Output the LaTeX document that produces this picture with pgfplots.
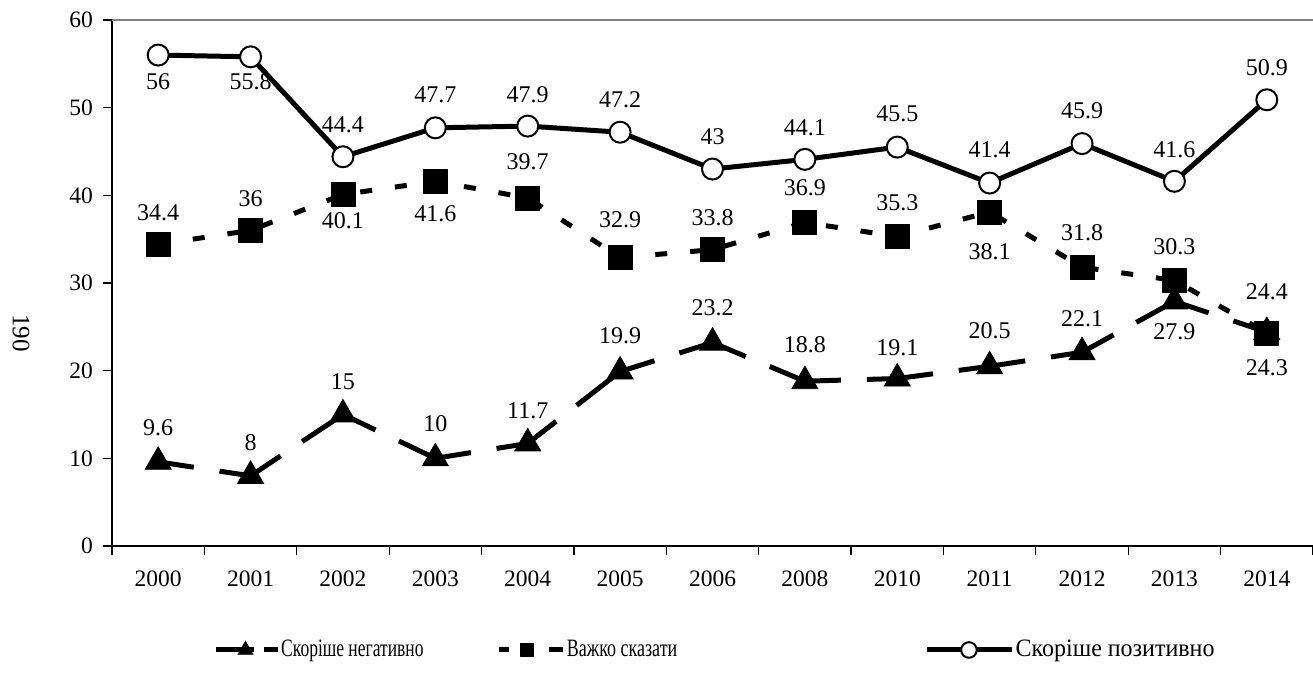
\documentclass[border=0pt]{standalone}
\usepackage{fontspec}
\setmainfont{Liberation Serif}
\usepackage{graphicx}
\usepackage{pgfplots}
\pgfplotsset{compat=1.18}

\pgfplotsset{
  legtri/.style={legend image code/.code={
    \draw[black, line width=2.5pt, dash pattern=on 19pt off 5pt on 7pt off 5pt] (0pt,0pt) -- (31pt,0pt);
    \path[black] plot[only marks, mark=triangle*, mark size=4.3pt, mark options={solid, fill=black, line width=0.4pt}]
      coordinates {(15pt,0pt)};}},
  legsq/.style={legend image code/.code={
    \draw[mark repeat=2,mark phase=2,##1,mark size=3.3pt,dash phase=0pt,dash pattern=on 5pt off 20pt on 7pt off 5pt]
      plot coordinates {(0pt,0pt) (14pt,0pt) (32pt,0pt)};}},
  legci/.style={legend image code/.code={
    \draw[mark repeat=2,mark phase=2,##1,mark size=3.9pt]
      plot coordinates {(0pt,0pt) (21pt,0pt) (42.5pt,0pt)};}},
  labels/.style={
    nodes near coords,
    visualization depends on={\thisrow{dy}\as\dy},
    every node near coord/.append style={font=\fontsize{12}{14}\selectfont,
      anchor=center, yshift=\dy pt, text=black, inner sep=0pt}},
}

\begin{document}
\begin{tikzpicture}

\begin{axis}[
  scale only axis,
  width=600.5pt, height=263pt,
  xmin=-0.5, xmax=12.5, ymin=0, ymax=60,
  clip=false,
  axis x line*=bottom, axis y line*=left,
  axis line style={black, line width=0.6pt},
  xtick={-0.5,0.5,...,12.5},
  xticklabels={},
  extra x ticks={0,1,...,12},
  extra x tick labels={2000,2001,2002,2003,2004,2005,2006,2008,2010,2011,2012,2013,2014},
  extra x tick style={major tick length=0pt, xticklabel style={yshift=-9pt}},
  ytick={0,10,...,60},
  tick align=outside,
  major tick length=4.5pt,
  tick style={black, line width=0.6pt},
  tick label style={font=\fontsize{11.75}{13}\selectfont},
  yticklabel style={xshift=-1.5pt},
  /pgf/number format/assume math mode=true,
  extra description/.code={
    \draw[gray, line width=0.6pt] (rel axis cs:0,1) -- (rel axis cs:1,1);
  },
  unbounded coords=jump,
  legend columns=3,
  legend style={at={(0.0841,-0.1977)}, anchor=west, draw=none, fill=none,
    inner sep=0pt, outer sep=0pt,
    nodes={inner sep=0.6pt},
    font=\fontsize{12.5}{15}\selectfont,
    /tikz/column 2/.style={column sep=36pt},
    /tikz/column 4/.style={column sep=123pt}},
]

% Скоріше негативно: line drawn segment by segment, so the long dash restarts at each point
\addplot[black, line width=2.5pt, line join=round, dash pattern=on 18pt off 13pt on 200pt off 1pt,
  mark=none, forget plot]
table {
x y
0 9.6
1 8
nan nan
1 8
2 15
nan nan
2 15
3 10
nan nan
3 10
4 11.7
nan nan
4 11.7
5 19.9
nan nan
5 19.9
6 23.2
nan nan
6 23.2
7 18.8
nan nan
7 18.8
8 19.1
nan nan
8 19.1
9 20.5
nan nan
9 20.5
10 22.1
nan nan
10 22.1
11 27.9
nan nan
11 27.9
12 24.4
};

\addplot[black, only marks, mark=triangle*, mark size=7.5pt,
  mark options={solid, fill=black, line width=0.4pt}, labels, legtri]
table[x=x, y=y] {
x y dy
0 9.6 17
1 8 16.5
2 15 16.5
3 10 17.5
4 11.7 16.5
5 19.9 18
6 23.2 17.5
7 18.8 18
8 19.1 15.5
9 20.5 18
10 22.1 17
11 27.9 -15
12 24.4 20
};
\addlegendentry{\scalebox{0.7}[1]{Скоріше негативно}}

\addplot[black, line width=2.5pt, line join=round, dash pattern=on 6pt off 11.5pt,
  mark=square*, mark size=6pt, mark options={solid, fill=black, line width=0.4pt}, labels, legsq]
table[x=x, y=y] {
x y dy
0 34.4 16
1 36 16
2 40.1 -13
3 41.6 -16
4 39.7 18
5 32.9 19
6 33.8 16
7 36.9 17.5
8 35.3 17
9 38.1 -20
10 31.8 17.5
11 30.3 17
12 24.3 -17.5
};
\addlegendentry{\scalebox{0.72}[1]{Важко сказати}}

\addplot[black, line width=2.5pt, line join=round,
  mark=*, mark size=5.25pt, mark options={solid, fill=white, draw=black, line width=1pt}, labels, legci]
table[x=x, y=y] {
x y dy
0 56 -13.5
1 55.8 -12.5
2 44.4 16
3 47.7 16.5
4 47.9 15.5
5 47.2 16
6 43 16
7 44.1 16
8 45.5 16.5
9 41.4 16.5
10 45.9 16.5
11 41.6 16
12 50.9 16
};
\addlegendentry{\scalebox{0.96}[1]{Скоріше позитивно}}

\end{axis}

\node[rotate=-90, font=\fontsize{12.5}{14}\selectfont, inner sep=0pt] at (-45.5pt,106.5pt) {190};

\pgfresetboundingbox
\useasboundingbox (-56pt,-66pt) rectangle (600.5pt,273pt);
\end{tikzpicture}
\end{document}
